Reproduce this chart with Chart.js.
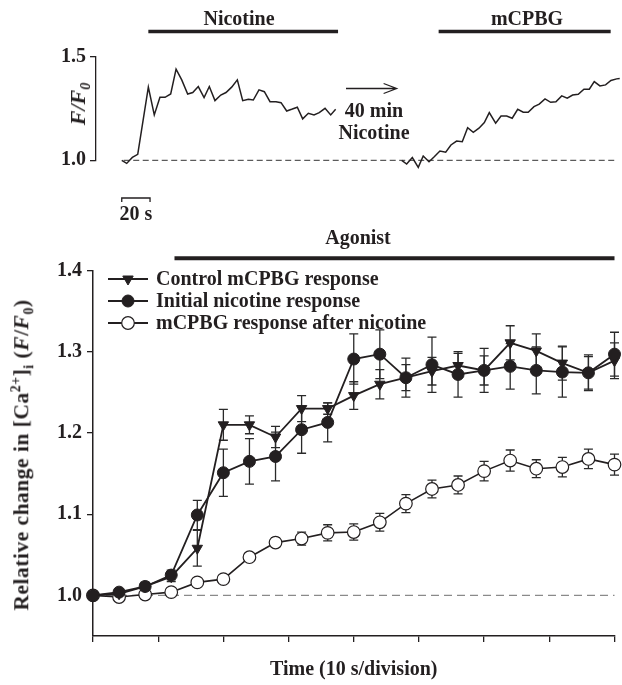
<!DOCTYPE html>
<html><head><meta charset="utf-8">
<script src="https://cdn.jsdelivr.net/npm/chart.js@4.4.0/dist/chart.umd.min.js"></script>
<style>
html,body{margin:0;padding:0;background:#fff;}
#wrap{position:relative;width:622px;height:685px;overflow:hidden;font-family:'Liberation Serif','DejaVu Serif',serif;font-weight:bold;color:#231f20;}
canvas{position:absolute;left:0;}
#topChart{top:0;width:622px;height:230px;}
#bottomChart{top:225px;width:622px;height:460px;}
.lbl{position:absolute;transform:translate(-50%,-50%);white-space:nowrap;font-size:20px;line-height:1;}
.rot{transform:translate(-50%,-50%) rotate(-90deg);}
sub,sup{font-size:0.65em;line-height:0;}
</style></head><body>
<div id="wrap">
<canvas id="topChart" width="622" height="230"></canvas>
<canvas id="bottomChart" width="622" height="460"></canvas>
<div class="lbl" style="left:239px;top:18px">Nicotine</div>
<div class="lbl" style="left:527px;top:18px">mCPBG</div>
<div class="lbl" style="left:374px;top:110px">40 min</div>
<div class="lbl" style="left:374px;top:132px">Nicotine</div>
<div class="lbl" style="left:136px;top:213px">20 s</div>
<div class="lbl" style="left:358px;top:237px">Agonist</div>
<div class="lbl rot" style="left:78px;top:104px;font-size:22px;font-style:italic">F/F<sub>0</sub></div>
<div class="lbl rot" style="left:22px;top:455px;font-size:21.5px;letter-spacing:0.5px">Relative change in [Ca<sup>2+</sup>]<sub>i</sub> (<i>F</i>/<i>F</i><sub>0</sub>)</div>
</div>
<script>
// ---------- Top panel: single-cell traces (time in s, F/F0) ----------
const trace1Time = [0,3.5,7.5,11.3,18.8,23,27,30.6,34.6,38.4,42.4,46.6,50.2,54.1,58.2,61.9,65.9,70,73.7,77.7,81.7,85.5,89.5,93,97,100.8,104.8,109,112.6,116.6,120.1,124.1,127.9,131.9,135.9,139.6,143.7,147.7,151.2];
const trace1Ratio = [1.000,0.985,1.014,1.029,1.353,1.219,1.304,1.304,1.320,1.440,1.388,1.320,1.327,1.356,1.303,1.356,1.288,1.315,1.327,1.353,1.388,1.288,1.295,1.291,1.340,1.331,1.283,1.283,1.278,1.238,1.246,1.256,1.200,1.227,1.219,1.230,1.251,1.219,1.246];
const trace2Time = [197.9,201.4,205.4,209.6,213.1,217.2,220.9,224.9,229,232.7,236.7,240.7,244.5,248.5,252.5,256.3,259.8,264.3,268.1,272.1,276,279.9,283.8,287.3,291.4,295.1,299.2,303.2,306.9,311,314.9,318.7,322.7,326.7,330.5,334,338,342,345.8,349.8,352];
const trace2Ratio = [1.000,0.982,1.013,0.966,1.021,0.993,1.017,1.045,1.039,1.074,1.093,1.090,1.157,1.135,1.155,1.182,1.230,1.179,1.214,1.214,1.203,1.246,1.232,1.232,1.259,1.271,1.296,1.280,1.283,1.311,1.300,1.315,1.319,1.343,1.343,1.380,1.359,1.364,1.385,1.393,1.395];
const topYTicks = [1.0, 1.5];
const nicotinePeriod = [18.8, 152.9];   // s
const mcpbgPeriod = [224, 345.6];       // s
const arrowSpan = [158.5, 194.3];       // s
const scaleBarSeconds = 20;

// ---------- Bottom panel: mean responses ----------
const times = [0,4,8,12,16,20,24,28,32,36,40,44,48,52,56,60,64,68,72,76,80];
const controlMean = [1.000,1.002,1.011,1.023,1.058,1.210,1.210,1.195,1.230,1.230,1.246,1.260,1.268,1.276,1.283,1.277,1.311,1.301,1.286,1.274,1.289];
const controlErr  = [0.003,0.004,0.005,0.006,0.022,0.019,0.011,0.013,0.016,0.007,0.017,0.018,0.016,0.017,0.015,0.018,0.021,0.021,0.021,0.022,0.022];
const initialMean = [1.000,1.004,1.011,1.025,1.099,1.151,1.165,1.171,1.204,1.213,1.291,1.297,1.268,1.284,1.272,1.277,1.282,1.277,1.275,1.274,1.297];
const initialErr  = [0.003,0.004,0.005,0.006,0.018,0.029,0.028,0.030,0.029,0.024,0.031,0.030,0.024,0.034,0.028,0.027,0.028,0.029,0.031,0.020,0.027];
const afterMean   = [1.000,0.998,1.001,1.004,1.016,1.020,1.047,1.065,1.070,1.077,1.078,1.090,1.113,1.131,1.136,1.153,1.166,1.156,1.158,1.168,1.161];
const afterErr    = [0.002,0.003,0.003,0.003,0.004,0.004,0.005,0.006,0.008,0.010,0.010,0.011,0.011,0.011,0.011,0.012,0.013,0.011,0.012,0.012,0.013];
const bottomYTicks = [1.0, 1.1, 1.2, 1.3, 1.4];
const bottomXTicks = [0,10,20,30,40,50,60,70,80];
const agonistPeriod = [12.5, 80];
const seriesLabels = ['Control mCPBG response','Initial nicotine response','mCPBG response after nicotine'];

const INK = '#231f20';
const FONT = {family:"'Liberation Serif','DejaVu Serif',serif", size:20, weight:'bold'};
const pts = (xs, ys) => xs.map((x,i)=>({x, y: ys[i]}));

// ---------- Top chart ----------
const topDecor = {
  id:'topDecor',
  afterDatasetsDraw(chart){
    const {ctx, scales:{x}} = chart;
    ctx.save();
    ctx.strokeStyle = INK;
    ctx.lineWidth = 3.5;
    [nicotinePeriod, mcpbgPeriod].forEach(([a,b])=>{
      ctx.beginPath(); ctx.moveTo(x.getPixelForValue(a), 31.5); ctx.lineTo(x.getPixelForValue(b), 31.5); ctx.stroke();
    });
    ctx.lineWidth = 1.3;
    const ax0 = x.getPixelForValue(arrowSpan[0]), ax1 = x.getPixelForValue(arrowSpan[1]), ay = 88.5;
    ctx.beginPath(); ctx.moveTo(ax0, ay); ctx.lineTo(ax1, ay);
    ctx.moveTo(ax1-13, ay-5); ctx.lineTo(ax1, ay); ctx.lineTo(ax1-13, ay+5); ctx.stroke();
    const s0 = x.getPixelForValue(0), s1 = x.getPixelForValue(scaleBarSeconds);
    ctx.beginPath(); ctx.moveTo(s0, 202); ctx.lineTo(s0, 198); ctx.lineTo(s1, 198); ctx.lineTo(s1, 202); ctx.stroke();
    ctx.restore();
  }
};

new Chart(document.getElementById('topChart'), {
  type:'line',
  data:{datasets:[
    {data: pts([1.4, 349.3],[1,1]), borderColor:'#333', borderWidth:1, borderDash:[6,3.5], pointRadius:0, clip:false, order:5},
    {data: pts(trace1Time, trace1Ratio), borderColor:INK, borderWidth:1.5, pointRadius:0, clip:false},
    {data: pts(trace2Time, trace2Ratio), borderColor:INK, borderWidth:1.5, pointRadius:0, clip:false}
  ]},
  options:{
    responsive:false, animation:false, events:[],
    layout:{padding:{top:56.7, bottom:69.7, left:0, right:2}},
    plugins:{legend:{display:false}, tooltip:{enabled:false}},
    scales:{
      x:{type:'linear', display:false, min:-18.2, max:352.2},
      y:{type:'linear', min:1.0, max:1.5,
         afterBuildTicks(s){ s.ticks = topYTicks.map(v=>({value:v})); },
         afterFit(s){ s.width = 96; },
         ticks:{callback:v=>Number(v).toFixed(1), font:FONT, color:INK, padding:4},
         grid:{drawOnChartArea:false, tickLength:6, color:INK, lineWidth:1.3},
         border:{color:INK, width:1.3}}
    }
  },
  plugins:[topDecor]
});

// ---------- Bottom chart ----------
function drawMarker(ctx, style, x, y, r, fill){
  ctx.beginPath();
  if (style === 'triangleDown') {
    ctx.moveTo(x - r*0.87, y - r*0.5); ctx.lineTo(x + r*0.87, y - r*0.5); ctx.lineTo(x, y + r); ctx.closePath();
  } else {
    ctx.arc(x, y, r, 0, Math.PI*2);
  }
  ctx.fillStyle = fill; ctx.fill(); ctx.stroke();
}

const errorBars = {
  id:'errorBars',
  beforeDatasetsDraw(chart){
    const {ctx, scales:{x,y}} = chart;
    ctx.save(); ctx.strokeStyle = '#2a2a2a'; ctx.lineWidth = 1.3;
    chart.data.datasets.forEach(ds=>{
      if (!ds.errors) return;
      ds.data.forEach((p,j)=>{
        const px = x.getPixelForValue(p.x);
        const t = y.getPixelForValue(p.y + ds.errors[j]), b = y.getPixelForValue(p.y - ds.errors[j]);
        ctx.beginPath();
        ctx.moveTo(px, t); ctx.lineTo(px, b);
        ctx.moveTo(px-4.5, t); ctx.lineTo(px+4.5, t);
        ctx.moveTo(px-4.5, b); ctx.lineTo(px+4.5, b);
        ctx.stroke();
      });
    });
    ctx.restore();
  },
  afterDraw(chart){
    const {ctx, scales:{x}} = chart;
    ctx.save();
    ctx.strokeStyle = INK; ctx.lineWidth = 4;
    ctx.beginPath(); ctx.moveTo(x.getPixelForValue(agonistPeriod[0]), 33.3); ctx.lineTo(x.getPixelForValue(agonistPeriod[1]), 33.3); ctx.stroke();
    ctx.font = "bold 20px 'Liberation Serif','DejaVu Serif',serif";
    ctx.textBaseline = 'middle'; ctx.textAlign = 'left';
    const rows = chart.data.datasets.filter(d=>d.legendStyle)
      .sort((a,b)=>seriesLabels.indexOf(a.label)-seriesLabels.indexOf(b.label));
    rows.forEach((d,i)=>{
      const ry = 54 + i*22;
      ctx.strokeStyle = INK; ctx.lineWidth = 1.8;
      ctx.beginPath(); ctx.moveTo(108, ry); ctx.lineTo(148, ry); ctx.stroke();
      ctx.lineWidth = d.pointBorderWidth;
      drawMarker(ctx, d.legendStyle, 128, ry, d.pointRadius, d.pointBackgroundColor);
      ctx.fillStyle = INK;
      ctx.fillText(d.label, 156, ry + 1);
    });
    ctx.restore();
  }
};

new Chart(document.getElementById('bottomChart'), {
  type:'line',
  data:{datasets:[
    {label:'baseline', data: pts([0,80],[1,1]), borderColor:'#8a8a8a', borderWidth:1.2, borderDash:[8,5], pointRadius:0, clip:false, order:10},
    {label:seriesLabels[2], legendStyle:'circle', data: pts(times, afterMean), errors: afterErr, borderColor:INK, borderWidth:1.6,
     pointStyle:'circle', pointRadius:6.3, pointBackgroundColor:'#ffffff', pointBorderColor:INK, pointBorderWidth:1.2, clip:false, order:3},
    {label:seriesLabels[1], legendStyle:'circle', data: pts(times, initialMean), errors: initialErr, borderColor:INK, borderWidth:1.8,
     pointStyle:'circle', pointRadius:6, pointBackgroundColor:INK, pointBorderColor:INK, pointBorderWidth:1, clip:false, order:1},
    {label:seriesLabels[0], legendStyle:'triangleDown', data: pts(times, controlMean), errors: controlErr, borderColor:INK, borderWidth:1.8,
     pointStyle:'triangle', pointRotation:180, pointRadius:6, pointBackgroundColor:INK, pointBorderColor:INK, pointBorderWidth:1, clip:false, order:2}
  ]},
  options:{
    responsive:false, animation:false, events:[],
    layout:{padding:{top:45.5, bottom:0, left:0, right:4}},
    plugins:{legend:{display:false}, tooltip:{enabled:false}},
    scales:{
      x:{type:'linear', min:0, max:80,
         afterBuildTicks(s){ s.ticks = bottomXTicks.map(v=>({value:v})); },
         afterFit(s){ s.height = 49; },
         ticks:{callback:()=>'', font:FONT},
         grid:{drawOnChartArea:false, tickLength:6, color:INK, lineWidth:1.3},
         border:{color:INK, width:1.5},
         title:{display:true, text:'Time (10 s/division)', font:FONT, color:INK, padding:{top:0, bottom:3}}},
      y:{type:'linear', min:0.95, max:1.4,
         afterBuildTicks(s){ s.ticks = bottomYTicks.map(v=>({value:v})); },
         afterFit(s){ s.width = 93; },
         ticks:{callback:v=>Number(v).toFixed(1), font:FONT, color:INK, padding:5},
         grid:{drawOnChartArea:false, tickLength:6, color:INK, lineWidth:1.3},
         border:{color:INK, width:1.5}}
    }
  },
  plugins:[errorBars]
});
</script>
</body></html>
